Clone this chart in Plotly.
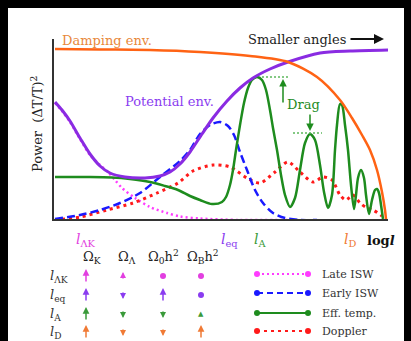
import plotly.graph_objects as go

# ---------------- data (arbitrary units: x = log l, y = power) ----------------
damp_x = [1, 46, 96, 146, 196, 234, 263, 286, 298, 308, 316, 323, 328, 331, 332]
damp_y = [170, 169.5, 169, 167, 163, 157, 142, 119, 101, 84, 69, 49, 27, 9, 0]

pot_x = [1, 8, 16, 26, 36, 46, 56, 71, 91, 106, 116, 126, 136, 148, 159, 173, 186, 199, 216, 234, 266, 296, 334]
pot_y = [117, 109, 98, 81, 65, 53, 46, 42, 41, 43, 47, 55, 67, 85, 101, 118, 131, 141, 150, 157, 166, 168, 169]

eff_x = [1, 36, 58, 76, 96, 111, 124, 136, 146, 158, 168, 172, 176, 179, 182, 186, 190, 194, 198, 203,
         208, 212, 216, 219, 223, 227, 231, 236, 241, 246, 251, 256, 261, 266, 270, 274, 278, 281, 283,
         286, 288, 291, 294, 297, 300, 302, 304, 307, 310, 312, 315, 318, 321, 323, 325, 327, 329]
eff_y = [42, 42, 41.5, 40, 37, 33, 29, 23, 19, 15, 17, 22, 34, 49, 69, 94, 116, 131, 139, 142,
         139, 129, 109, 91, 69, 44, 24, 12, 21, 49, 76, 85, 79, 54, 27, 11, 24, 69, 94,
         115, 114, 94, 69, 34, 10, 24, 41, 49, 41, 24, 5, 19, 29, 30, 26, 14, 0]

eisw_x = [1, 26, 46, 66, 86, 106, 126, 136, 146, 156, 166, 174, 180, 186, 193, 201, 209, 219, 231, 246, 263]
eisw_y = [0, 4, 9, 16, 26, 42, 58, 69, 85, 94, 97, 93, 84, 67, 49, 29, 16, 6, 1, -1, -1]

dop_x = [1, 26, 53, 79, 103, 124, 139, 159, 176, 193, 206, 221, 234, 246, 259, 269, 278, 286, 292, 299, 306, 313, 319, 328]
dop_y = [-1, 2, 9, 16, 26, 36, 48, 54, 52, 41, 36, 47, 57, 47, 37, 42, 39, 24, 19, 24, 16, 11, 9, 3]

lisw_x = [1, 8, 16, 26, 36, 46, 54, 61, 68, 81, 96, 113, 126, 146, 186, 236]
lisw_y = [116, 108, 97, 80, 64, 54, 47, 39, 31, 21, 12, 6, 2.5, 0.5, -1, -1]

# characteristic scales
scale_labels = ["ΛK", "eq", "A", "D"]
scale_colors = ["#e23fe0", "#8a3cf0", "#3a9a3a", "#f07a35"]

# dependence table
table_cols = ["Ω<sub>K</sub>", "Ω<sub>Λ</sub>", "Ω<sub>0</sub>h<sup>2</sup>", "Ω<sub>B</sub>h<sup>2</sup>"]
table_effects = [["UP", "up", "dot", "dot"],
                 ["UP", "down", "UP", "dot"],
                 ["UP", "down", "down", "tri"],
                 ["UP", "down", "down", "UP"]]

legend_names = ["Late ISW", "Early ISW", "Eff. temp.", "Doppler"]

# ---------------- geometry helpers ----------------
W, H = 411, 341
L, R, T, B = 54, 388, 39, 219


def px(x):
    return (x - L) / (R - L)


def py(y):
    return (B - y) / (B - T)


SERIF = "DejaVu Serif"
PURPLE = "#8a2be2"
ORANGE = "#ff6314"
GREEN = "#1e8c1e"
BLUE = "#1a1aff"
RED = "#ff1a1a"
MAGENTA = "#ff3cff"

fig = go.Figure()

fig.add_trace(go.Scatter(x=lisw_x, y=lisw_y, mode="lines", line=dict(color=MAGENTA, width=2.5, dash="2px,3px", shape="spline", smoothing=0.8)))
fig.add_trace(go.Scatter(x=dop_x, y=dop_y, mode="lines", line=dict(color=RED, width=3, dash="3px,4px", shape="spline", smoothing=0.8)))
fig.add_trace(go.Scatter(x=eisw_x, y=eisw_y, mode="lines", line=dict(color=BLUE, width=2.5, dash="8px,4px", shape="spline", smoothing=0.8)))
fig.add_trace(go.Scatter(x=eff_x, y=eff_y, mode="lines", line=dict(color=GREEN, width=2.5, shape="spline", smoothing=0.8)))
fig.add_trace(go.Scatter(x=pot_x, y=pot_y, mode="lines", line=dict(color=PURPLE, width=3, shape="spline", smoothing=0.8)))
fig.add_trace(go.Scatter(x=damp_x, y=damp_y, mode="lines", line=dict(color=ORANGE, width=2.5, shape="spline", smoothing=0.8)))

# drag markers (dotted levels)
fig.add_trace(go.Scatter(x=[208, 236], y=[142, 142], mode="lines", line=dict(color="#5cb85c", width=1.5, dash="2px,2px")))
fig.add_trace(go.Scatter(x=[239, 268], y=[86, 86], mode="lines", line=dict(color="#5cb85c", width=1.5, dash="2px,2px")))

shapes = [dict(type="rect", xref="paper", yref="paper", x0=px(8), x1=px(404), y0=py(8), y1=py(341),
               fillcolor="white", line=dict(width=0), layer="below")]

ann = []


def text(x, y, s, color="#222", size=13, xanchor="center", **kw):
    ann.append(dict(x=px(x), y=py(y), xref="paper", yref="paper", text=s, showarrow=False,
                    font=dict(family=SERIF, size=size, color=color), xanchor=xanchor, yanchor="middle", **kw))


text(60, 40, "Damping env.", color="#e8883a", size=13, xanchor="left")
text(246, 39, "Smaller angles", color="#222", size=13, xanchor="left")
text(123, 101, "Potential env.", color="#8a3cf0", size=13, xanchor="left")
text(303, 104, "Drag", color=GREEN, size=13)
text(37, 124, "Power  (ΔT/T)<sup>2</sup>", color="#222", size=13, textangle=-90)

# smaller angles arrow
ann.append(dict(x=px(384), y=py(39), ax=-35, ay=0, xref="paper", yref="paper",
                showarrow=True, arrowhead=2, arrowsize=1, arrowwidth=2, arrowcolor="#111", text=""))
# drag arrows
ann.append(dict(x=229, y=140, ax=0, ay=25, xref="x", yref="y", showarrow=True, arrowhead=2, arrowsize=1,
                arrowwidth=1.5, arrowcolor=GREEN, text=""))
ann.append(dict(x=256, y=88, ax=0, ay=-18, xref="x", yref="y", showarrow=True, arrowhead=2, arrowsize=1,
                arrowwidth=1.5, arrowcolor=GREEN, text=""))

# scale labels below axis
below_x = [86, 229, 260, 350]
for lab, col, xx in zip(scale_labels, scale_colors, below_x):
    text(xx, 240, "<i>l</i><sub>%s</sub>" % lab, color=col, size=14)
text(381, 240, "<b>log<i>l</i></b>", color="#111", size=13)

# table
col_x = [92, 127, 163, 203]
row_y = [276, 295, 314, 332]
for cx, c in zip(col_x, table_cols):
    text(cx, 257, c, color="#222", size=13)
for ry, lab in zip(row_y, scale_labels):
    text(48, ry, "<i>l</i><sub>%s</sub>" % lab, color="#333", size=13, xanchor="left")
arrow_x = [86, 123, 163, 201]
for ri, (ry, col) in enumerate(zip(row_y, scale_colors)):
    for ci, eff in enumerate(table_effects[ri]):
        ax_ = arrow_x[ci]
        if eff in ("UP", "up", "down"):
            ln = {"UP": 14, "up": 8, "down": 8}[eff]
            if eff == "down":
                hx, hy, off = ax_, ry + ln / 2, -ln
            else:
                hx, hy, off = ax_, ry - ln / 2, ln
            ann.append(dict(x=px(hx), y=py(hy), ax=0, ay=off, xref="paper", yref="paper", showarrow=True,
                            arrowhead=2, arrowsize=0.9 if eff == "UP" else 0.8, arrowwidth=1.5,
                            arrowcolor=col, text=""))
        elif eff == "tri":
            text(ax_, ry, "▲", color=col, size=7)
        else:
            shapes.append(dict(type="circle", xref="paper", yref="paper", xsizemode="pixel", ysizemode="pixel",
                               xanchor=px(ax_), yanchor=py(ry), x0=-3, x1=3, y0=-3, y1=3,
                               fillcolor=col, line=dict(width=0)))

# legend
leg_y = [274, 293, 313, 331]
leg_colors = [MAGENTA, BLUE, GREEN, RED]
leg_dash = ["2px,3px", "6px,4px", "solid", "3px,4px"]
for name, ly, lc, ld in zip(legend_names, leg_y, leg_colors, leg_dash):
    shapes.append(dict(type="line", xref="paper", yref="paper", x0=px(257), x1=px(308), y0=py(ly), y1=py(ly),
                       line=dict(color=lc, width=2, dash=ld)))
    for ex in (257, 308):
        shapes.append(dict(type="circle", xref="paper", yref="paper", xsizemode="pixel", ysizemode="pixel",
                           xanchor=px(ex), yanchor=py(ly), x0=-3, x1=3, y0=-3, y1=3,
                           fillcolor=lc, line=dict(width=0)))
    text(320, ly, name, color="#333", size=11, xanchor="left")

fig.update_layout(
    width=W, height=H, autosize=False,
    margin=dict(l=L, r=W - R, t=T, b=H - B, pad=0),
    paper_bgcolor="black", plot_bgcolor="white",
    showlegend=False,
    xaxis=dict(range=[0, R - L], showline=True, linecolor="#333", linewidth=1.5, showgrid=False,
               zeroline=False, showticklabels=False, ticks="", fixedrange=True),
    yaxis=dict(range=[0, B - T], showline=True, linecolor="#333", linewidth=1.5, showgrid=False,
               zeroline=False, showticklabels=False, ticks="", fixedrange=True),
    shapes=shapes, annotations=ann,
)

fig.write_html("out.html", config=dict(displayModeBar=False),
               post_script="document.body.style.margin='0';document.body.style.background='black';"
                           "document.body.style.overflow='hidden';")
